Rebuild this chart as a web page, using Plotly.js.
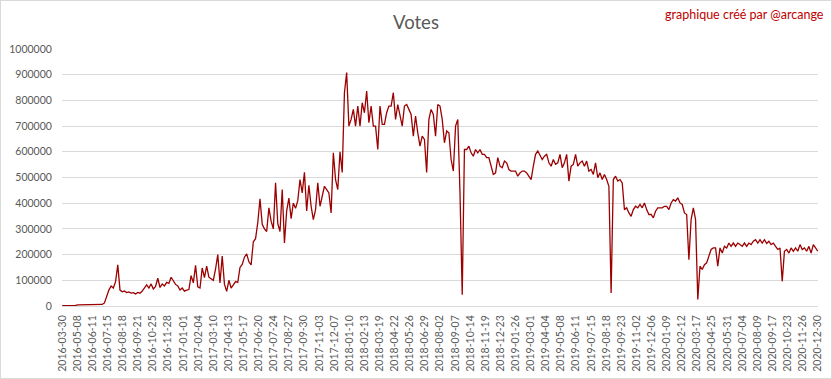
<!DOCTYPE html>
<html>
<head>
<meta charset="utf-8">
<script src="https://cdn.plot.ly/plotly-3.0.1.min.js"></script>
<style>
  html, body { margin: 0; padding: 0; background: #ffffff; }
  #chart { width: 830px; height: 377px; border: 1px solid #d9d9d9; }
</style>
</head>
<body>
<div id="chart"></div>
<script>
// Category tick labels (one every 34 rows of the source table)
const tickLabels = [
  "2016-03-30","2016-05-08","2016-06-11","2016-07-15","2016-08-18","2016-09-21","2016-10-25","2016-11-28",
  "2017-01-01","2017-02-04","2017-03-10","2017-04-13","2017-05-17","2017-06-20","2017-07-24","2017-08-27",
  "2017-09-30","2017-11-03","2017-12-07","2018-01-10","2018-02-13","2018-03-19","2018-04-22","2018-05-26",
  "2018-06-29","2018-08-02","2018-09-07","2018-10-14","2018-11-19","2018-12-23","2019-01-26","2019-03-01",
  "2019-04-04","2019-05-08","2019-06-11","2019-07-15","2019-08-18","2019-09-23","2019-11-02","2019-12-06",
  "2020-01-09","2020-02-12","2020-03-17","2020-04-25","2020-05-31","2020-07-04","2020-08-09","2020-09-17",
  "2020-10-23","2020-11-26","2020-12-30"
];
const ROWS_PER_LABEL = 34;
const SAMPLE_STEP = 5;   // one value read every 5 rows

// Votes (thousands), every 5 rows
const votesThousands = [
  1,1,1,1,1,1,2,4,4,4,
  4,4,4,5,5,5,5,5,6,12,
  40,62,78,70,95,160,62,55,58,52,
  55,50,52,47,53,50,58,70,82,70,
  86,66,76,108,72,86,78,92,88,112,
  95,84,78,62,70,58,62,64,118,90,
  158,75,70,148,110,155,112,105,100,144,
  200,90,194,85,57,100,70,82,95,92,
  150,162,190,203,172,160,250,262,325,417,
  318,300,290,382,330,300,479,320,290,453,
  245,370,420,340,400,380,410,492,440,520,
  370,470,388,336,375,479,388,427,466,453,
  440,362,596,492,453,600,520,830,908,700,
  726,765,700,778,700,791,752,836,713,778,
  700,700,609,778,707,707,752,778,778,830,
  726,784,745,700,778,784,765,745,661,739,
  674,622,661,648,520,726,765,745,661,784,
  778,726,635,681,674,570,525,700,726,440,
  44,609,609,622,596,583,609,596,609,590,
  590,577,577,544,512,518,577,544,538,564,
  557,531,525,525,525,505,518,525,525,518,
  505,492,544,590,603,583,570,583,590,557,
  544,570,551,557,590,538,557,590,486,544,
  551,590,544,557,564,544,564,525,531,512,
  557,499,518,492,512,492,466,51,492,505,
  486,492,479,375,382,362,349,375,388,382,
  395,382,401,375,356,356,343,369,382,382,
  382,388,388,375,401,414,408,421,401,395,
  362,356,180,336,382,336,25,155,142,161,
  168,194,220,226,226,155,226,206,232,226,
  245,232,245,232,245,239,232,245,232,245,
  239,252,258,245,258,245,258,243,252,239,
  245,232,220,226,96,213,220,206,226,213,
  226,213,239,220,226,213,232,206,239,226,
  213
];

const xRows = votesThousands.map((_, i) => i * SAMPLE_STEP);
const yVotes = votesThousands.map(v => v * 1000);
const tickVals = tickLabels.map((_, k) => k * ROWS_PER_LABEL);
const lastRow = (tickLabels.length - 1) * ROWS_PER_LABEL;

const trace = {
  type: 'scatter',
  mode: 'lines',
  x: xRows,
  y: yVotes,
  line: { color: '#9c0000', width: 1.3 },
  hoverinfo: 'y'
};

const FONT = 'Lato, "Open Sans", sans-serif';

const layout = {
  width: 830,
  height: 377,
  margin: { l: 61, r: 13, t: 48, b: 72 },
  paper_bgcolor: '#ffffff',
  plot_bgcolor: '#ffffff',
  showlegend: false,
  title: {
    text: 'Votes',
    font: { family: FONT, size: 18.5, color: '#595959' },
    x: 0.5, xref: 'container', xanchor: 'center',
    y: 0.942, yref: 'container', yanchor: 'middle'
  },
  xaxis: {
    type: 'linear',
    range: [-0.5, lastRow + 0.5],
    tickmode: 'array',
    tickvals: tickVals,
    ticktext: tickLabels,
    tickangle: -90,
    tickfont: { family: FONT, size: 10.5, color: '#595959' },
    ticks: 'outside', ticklen: 4, tickcolor: 'rgba(0,0,0,0)',
    showgrid: false,
    zeroline: false,
    showline: true, linecolor: '#d9d9d9', linewidth: 1
  },
  yaxis: {
    range: [0, 1000000],
    tickmode: 'linear', tick0: 0, dtick: 100000,
    tickformat: 'd',
    tickfont: { family: FONT, size: 10.5, color: '#595959' },
    ticks: 'outside', ticklen: 7, tickcolor: 'rgba(0,0,0,0)',
    showgrid: true, gridcolor: '#d9d9d9', gridwidth: 1,
    zeroline: false,
    showline: false
  },
  annotations: [{
    text: 'graphique créé par @arcange',
    xref: 'paper', yref: 'paper',
    x: 1.0106, y: 1.136,
    xanchor: 'right', yanchor: 'middle',
    showarrow: false,
    font: { family: FONT, size: 12.5, color: '#c00000' }
  }]
};

Plotly.newPlot('chart', [trace], layout, { displayModeBar: false, staticPlot: true });
</script>
</body>
</html>
